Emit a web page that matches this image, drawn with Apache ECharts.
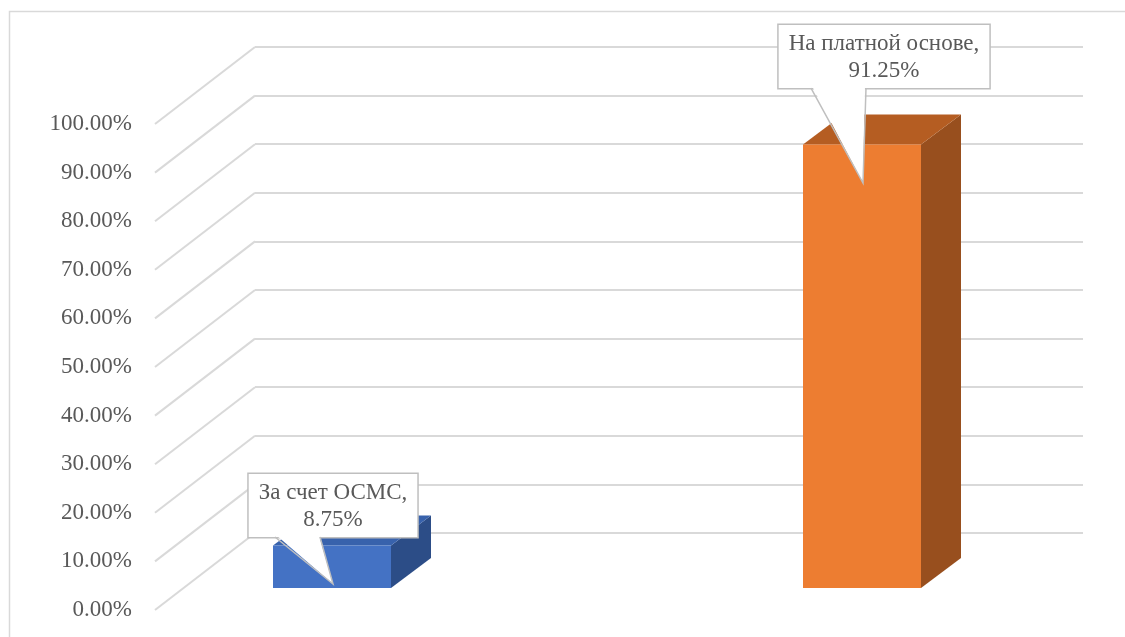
<!DOCTYPE html>
<html>
<head>
<meta charset="utf-8">
<script src="https://cdn.jsdelivr.net/npm/echarts@6/dist/echarts.min.js"></script>
<style>
  html, body { margin: 0; padding: 0; background: #ffffff; }
  #chart { width: 1125px; height: 637px; }
</style>
</head>
<body>
<div id="chart"></div>
<script>
// Funding source shares (percent)
const categories = ['За счет ОСМС', 'На платной основе'];
const shares = [8.75, 91.25];
const tickValues = [0, 10, 20, 30, 40, 50, 60, 70, 80, 90, 100];

// Styling of the pseudo-3D columns: front, top and side faces
const faceColors = [
  { front: '#4472C4', top: '#3862AC', side: '#2C4D87' },
  { front: '#ED7D31', top: '#B55D22', side: '#984F1E' }
];

// Callout placement relative to the pointer tip
const calloutLayout = [
  { dx: 0, dy: -47, baseL: -58, baseR: -13 },
  { dx: 21, dy: -95, baseL: -52, baseR: 3 }
];

const FONT = 'Liberation Serif';
const TEXT_COLOR = '#595959';
const GRID_COLOR = '#d9d9d9';
const WALL_DX = 100, WALL_DY = 77;     // front edge of the side wall relative to the back wall
const BAR_W = 118, BAR_DX = 40, BAR_DY = 30;

const fmtPct = v => v.toFixed(2) + '%';

const chart = echarts.init(document.getElementById('chart'), null, { renderer: 'canvas', devicePixelRatio: 1 });

const option = {
  animation: false,
  backgroundColor: '#ffffff',
  textStyle: { fontFamily: FONT },
  graphic: [{
    type: 'polyline',
    shape: { points: [[9.5, 640], [9.5, 11.5], [1130, 11.5]] },
    style: { stroke: GRID_COLOR, lineWidth: 1.5, fill: null },
    silent: true
  }],
  grid: [
    { left: 255, top: 47, width: 828, height: 486 },   // back wall
    { left: 155, top: 124, width: 1, height: 486 },    // front edge (value labels)
    { left: 332, top: 102, width: 530, height: 486 }   // column front faces
  ],
  xAxis: [
    { gridIndex: 0, type: 'value', min: 0, max: 1, show: false },
    { gridIndex: 1, type: 'value', min: 0, max: 1, show: false },
    { gridIndex: 2, type: 'category', data: categories, boundaryGap: false, show: false }
  ],
  yAxis: [
    {
      gridIndex: 0, type: 'value', min: 0, max: 100, interval: 10,
      axisLine: { show: false }, axisTick: { show: false }, axisLabel: { show: false },
      splitLine: { show: true, lineStyle: { color: GRID_COLOR, width: 2 } }
    },
    {
      gridIndex: 1, type: 'value', min: 0, max: 100, interval: 10,
      axisLine: { show: false }, axisTick: { show: false }, splitLine: { show: false },
      axisLabel: {
        show: true, margin: 23, color: TEXT_COLOR,
        fontFamily: FONT, fontSize: 23,
        formatter: v => fmtPct(v)
      }
    },
    { gridIndex: 2, type: 'value', min: 0, max: 100, show: false }
  ],
  series: [
    {
      // side-wall diagonals joining the back gridlines to the front edge
      type: 'custom',
      xAxisIndex: 0, yAxisIndex: 0,
      data: tickValues.map(v => [0, v]),
      silent: true,
      z: 1,
      renderItem: (params, api) => {
        const p = api.coord([0, api.value(1)]);
        return {
          type: 'line',
          shape: { x1: p[0] - WALL_DX, y1: p[1] + WALL_DY, x2: p[0], y2: p[1] },
          style: { stroke: GRID_COLOR, lineWidth: 2 }
        };
      }
    },
    {
      // 3D columns
      type: 'custom',
      xAxisIndex: 2, yAxisIndex: 2,
      data: shares.map((v, i) => [i, v]),
      z: 3,
      renderItem: (params, api) => {
        const i = api.value(0);
        const base = api.coord([i, 0]);
        const top = api.coord([i, api.value(1)]);
        const x0 = base[0] - BAR_W / 2, x1 = base[0] + BAR_W / 2;
        const yb = base[1], yt = top[1];
        const c = faceColors[params.dataIndex];
        return {
          type: 'group',
          children: [
            {
              type: 'polygon',
              shape: { points: [[x1, yt], [x1 + BAR_DX, yt - BAR_DY], [x1 + BAR_DX, yb - BAR_DY], [x1, yb]] },
              style: { fill: c.side }
            },
            {
              type: 'polygon',
              shape: { points: [[x0, yt], [x1, yt], [x1 + BAR_DX, yt - BAR_DY], [x0 + BAR_DX, yt - BAR_DY]] },
              style: { fill: c.top }
            },
            {
              type: 'rect',
              shape: { x: x0, y: yt, width: BAR_W, height: yb - yt },
              style: { fill: c.front }
            }
          ]
        };
      }
    },
    {
      // data callouts
      type: 'custom',
      xAxisIndex: 2, yAxisIndex: 2,
      data: shares.map((v, i) => [i, v]),
      z: 5,
      renderItem: (params, api) => {
        const i = api.value(0);
        const v = api.value(1);
        const top = api.coord([i, v]);
        const L = calloutLayout[params.dataIndex];
        const tip = [top[0] + 1, top[1] + 38.5];
        const boxBottom = tip[1] + L.dy;
        const cx = tip[0] + L.dx;
        const bl = [tip[0] + L.baseL, boxBottom];
        const br = [tip[0] + L.baseR, boxBottom];
        return {
          type: 'group',
          children: [
            {
              type: 'text',
              x: cx, y: boxBottom,
              style: {
                text: categories[params.dataIndex] + ',\n' + fmtPct(v),
                fontFamily: FONT, fontSize: 23, lineHeight: 27,
                fill: TEXT_COLOR,
                align: 'center', verticalAlign: 'bottom',
                backgroundColor: '#ffffff',
                borderColor: '#bfbfbf', borderWidth: 1.5,
                padding: [5, 10, 4, 10]
              }
            },
            {
              type: 'polygon',
              shape: { points: [[bl[0] + 1, bl[1] - 2], [br[0] - 1, br[1] - 2], tip] },
              style: { fill: '#ffffff' }
            },
            {
              type: 'polyline',
              shape: { points: [bl, tip, br] },
              style: { stroke: '#bfbfbf', lineWidth: 1.5, fill: null }
            }
          ]
        };
      }
    }
  ]
};

chart.setOption(option);
</script>
</body>
</html>
